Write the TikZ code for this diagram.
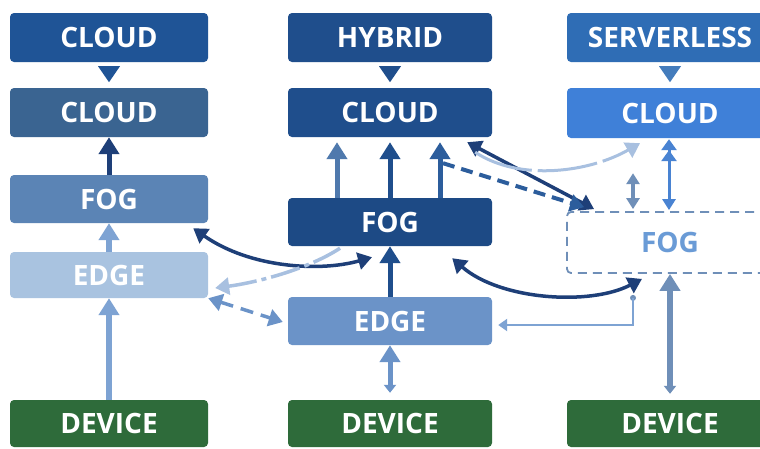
\documentclass[tikz,border=0pt]{standalone}
\usepackage{fontspec}
\setmainfont{Open Sans}
\usetikzlibrary{arrows.meta,calc}
\definecolor{navy}{HTML}{1E3F78}
\definecolor{cA}{HTML}{1F5496}
\definecolor{cB}{HTML}{3A6491}
\definecolor{cC}{HTML}{5B84B5}
\definecolor{cD}{HTML}{A9C3E0}
\definecolor{grn}{HTML}{2E6B3A}
\definecolor{hA}{HTML}{1F4E8C}
\definecolor{hE}{HTML}{6B93C8}
\definecolor{sA}{HTML}{2F6DB5}
\definecolor{sB}{HTML}{3F80D8}
\definecolor{sF}{HTML}{6F8FB8}
\definecolor{sT}{HTML}{6A9BD6}
\definecolor{lite}{HTML}{7EA3D3}
\definecolor{pale}{HTML}{A8C0E0}
\definecolor{mid}{HTML}{2C5D9C}
\tikzset{
  box/.style={rectangle, rounded corners=4pt, inner sep=0pt, text=white,
    font=\fontsize{28}{28}\selectfont\bfseries},
  w1/.style={minimum width=198pt},
  w2/.style={minimum width=204pt},
  w3/.style={minimum width=206pt},
  bigtip/.style={-{Triangle[width=20pt,length=17pt]}},
  tip/.style={-{Triangle[width=17pt,length=14pt]}},
  dtip/.style={{Triangle[width=17pt,length=14pt]}-{Triangle[width=17pt,length=14pt]}},
}
\begin{document}
\begin{tikzpicture}[x=1pt,y=-1pt]
\useasboundingbox (0,0) rectangle (760,448);
\fill[white] (0,0) rectangle (760,448);
% column 1
\node[box,w1,minimum height=49pt,fill=cA] (t1) at (109,37.5) {CLOUD};
\node[box,w1,minimum height=49pt,fill=cB] (c1) at (109,112.5) {CLOUD};
\node[box,w1,minimum height=48pt,fill=cC] (f1) at (109,199) {FOG};
\node[box,w1,minimum height=46pt,fill=cD] (e1) at (109,275) {EDGE};
\node[box,w1,minimum height=47pt,fill=grn] (d1) at (109,423.5) {DEVICE};
% column 2
\node[box,w2,minimum height=49pt,fill=hA] (t2) at (390,37.5) {HYBRID};
\node[box,w2,minimum height=49pt,fill=hA] (c2) at (390,112.5) {CLOUD};
\node[box,w2,minimum height=48pt,fill=hA!95!black] (f2) at (390,222) {FOG};
\node[box,w2,minimum height=48pt,fill=hE] (e2) at (390,321) {EDGE};
\node[box,w2,minimum height=47pt,fill=grn] (d2) at (390,423.5) {DEVICE};
% column 3
\node[box,w3,minimum height=49pt,fill=sA] (t3) at (670,37.5) {SERVERLESS};
\node[box,w3,minimum height=50pt,fill=sB] (c3) at (670,113) {CLOUD};
\node[box,w3,minimum height=61pt,fill=white,draw=sF,dashed,line width=1.8pt,
  dash pattern=on 9pt off 6pt,text=sT] (f3) at (670,242.5) {FOG};
\node[box,w3,minimum height=47pt,fill=grn] (d3) at (670,423.5) {DEVICE};
% triangles
\fill[cA] ($(t1.south)+(-11,4)$) -- ($(t1.south)+(11,4)$) -- ($(t1.south)+(0,20)$) -- cycle;
\fill[hA] ($(t2.south)+(-11,4)$) -- ($(t2.south)+(11,4)$) -- ($(t2.south)+(0,20)$) -- cycle;
\fill[sA!90!white] ($(t3.south)+(-11,4)$) -- ($(t3.south)+(11,4)$) -- ($(t3.south)+(0,20)$) -- cycle;
% column 1 arrows
\draw[bigtip,navy,line width=5pt] (f1.north) -- (c1.south);
\draw[bigtip,lite,line width=6pt] (e1.north) -- (f1.south);
\draw[bigtip,lite,line width=6pt] (d1.north) -- (e1.south);
% column 2 arrows
\draw[bigtip,cC!80!hA,line width=5pt] ($(f2.north)+(-53,0)$) -- ($(c2.south)+(-53,5)$);
\draw[bigtip,hA,line width=5pt] (f2.north) -- ($(c2.south)+(0,5)$);
\draw[bigtip,mid,line width=5pt] ($(f2.north)+(50,0)$) -- ($(c2.south)+(50,5)$);
\draw[bigtip,hA,line width=5pt] (e2.north) -- (f2.south);
\draw[{Triangle[width=12pt,length=8pt]}-{Triangle[width=20pt,length=17pt]},hE,line width=5pt] ($(d2.north)+(0,-7)$) -- (e2.south);
% column 3 arrows
\draw[sF,line width=3.5pt,{Triangle[width=13pt,length=11pt]}-{Triangle[width=13pt,length=11pt]}] ($(f3.north)+(-37,-2)$) -- ($(c3.south)+(-37,35)$);
\draw[sB!80!sF,line width=3pt,{Triangle[width=15pt,length=11pt]Triangle[width=15pt,length=11pt]}-{Triangle[width=13pt,length=11pt]}] ($(c3.south)+(-1,1)$) -- ($(f3.north)+(-1,-1)$);
\draw[{Triangle[width=12pt,length=8pt]}-{Triangle[width=20pt,length=17pt]},sF,line width=5.5pt] ($(d3.north)+(0,-6)$) -- (f3.south);
% cross-column arrows
\coordinate (a1) at ($(f1.south east)+(-15,5)$);
\coordinate (a2) at ($(f2.south)+(-18,11)$);
\draw[dtip,navy,line width=3.5pt] (a1) .. controls (250,268) and (320,272) .. (a2);
\coordinate (b1) at ($(f2.south)+(-50,2)$);
\coordinate (b2) at ($(e1.east)+(7,13)$);
\draw[tip,pale,line width=3.5pt,dash pattern=on 30pt off 5pt on 5pt off 5pt] (b1) .. controls (310,268) and (260,282) .. (b2);
\coordinate (g1) at ($(e1.south east)+(0,0)$);
\coordinate (g2) at ($(e2.west)+(-5,1)$);
\draw[dtip,hE,line width=3.5pt,dash pattern=on 13pt off 8pt] (g1) -- (g2);
\coordinate (h1) at ($(c2.south east)+(-25,5)$);
\coordinate (h2) at ($(f3.north west)+(28,-2)$);
\draw[dtip,navy,line width=3.5pt] (h1) -- (h2);
\coordinate (k1) at ($(c2.south)+(53,26)$);
\coordinate (k2) at ($(f3.north west)+(18,-4)$);
\draw[tip,mid,line width=4pt,dash pattern=on 12pt off 7pt] (k1) -- (k2);
\coordinate (m1) at ($(c2.south east)+(-17,15)$);
\coordinate (m2) at ($(c3.south)+(-30,5)$);
\draw[tip,pale,line width=3pt,dash pattern=on 60pt off 6pt] (m1) .. controls (520,182) and (590,172) .. (m2);
\coordinate (n1) at ($(f2.south east)+(-40,12)$);
\coordinate (n2) at ($(f3.south)+(-28,5)$);
\draw[dtip,navy,line width=3.5pt] (n1) .. controls (500,300) and (590,306) .. (n2);
\coordinate (p1) at ($(f3.south)+(-37,24)$);
\coordinate (p2) at ($(e2.east)+(6,4)$);
\fill[sF] (p1) circle (3pt);
\draw[-{Triangle[width=12pt,length=9pt]},lite,line width=2.5pt] (p1) |- (p2);
\end{tikzpicture}
\end{document}
